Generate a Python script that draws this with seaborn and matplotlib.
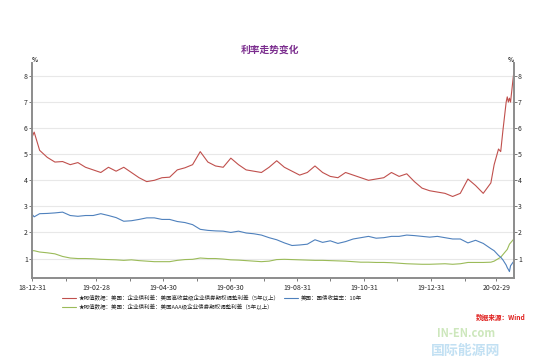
import matplotlib
matplotlib.use("Agg")
import matplotlib.pyplot as plt
import matplotlib.dates as mdates
import pandas as pd
import seaborn as sns

# weekly observations, plus a few extra points at the start and in March 2020
weekly = list(pd.date_range("2018-12-31", "2020-02-24", freq="7D"))
extra_dates = ["2019-01-02", "2020-02-27", "2020-03-02", "2020-03-04", "2020-03-06",
               "2020-03-09", "2020-03-10", "2020-03-11", "2020-03-12", "2020-03-13", "2020-03-16"]
dates = sorted(weekly + list(pd.to_datetime(extra_dates)))

# high yield spread (red)
hy_spread = [5.65, 5.85, 5.15, 4.88, 4.70, 4.72, 4.60, 4.68, 4.50, 4.40, 4.30,
             4.50, 4.35, 4.50, 4.30, 4.10, 3.95, 4.00, 4.10, 4.12, 4.40,
             4.48, 4.60, 5.10, 4.70, 4.55, 4.50, 4.85, 4.60, 4.40, 4.35,
             4.30, 4.50, 4.75, 4.50, 4.35, 4.20, 4.30, 4.55, 4.30, 4.15,
             4.10, 4.30, 4.20, 4.10, 4.00, 4.05, 4.10, 4.30, 4.15, 4.25,
             3.95, 3.70, 3.60, 3.55, 3.50, 3.38, 3.50, 4.05, 3.80, 3.50,
             3.90, 4.60, 5.20, 5.10, 5.90, 7.00, 7.20, 7.00, 7.15, 7.00, 8.15]
# 10 year treasury yield (blue)
ust10 = [2.70, 2.60, 2.72, 2.73, 2.75, 2.78, 2.65, 2.62, 2.65, 2.65, 2.72,
         2.65, 2.57, 2.43, 2.45, 2.50, 2.56, 2.56, 2.50, 2.50, 2.42,
         2.38, 2.30, 2.12, 2.08, 2.06, 2.05, 2.00, 2.05, 1.98, 1.95,
         1.90, 1.80, 1.72, 1.60, 1.50, 1.52, 1.55, 1.72, 1.62, 1.68,
         1.58, 1.65, 1.75, 1.80, 1.85, 1.78, 1.80, 1.85, 1.85, 1.90,
         1.88, 1.85, 1.82, 1.85, 1.80, 1.75, 1.75, 1.60, 1.70, 1.58,
         1.38, 1.30, 1.12, 1.05, 0.95, 0.75, 0.65, 0.58, 0.50, 0.72, 0.90]
# AAA spread (green)
aaa_spread = [1.30, 1.30, 1.25, 1.22, 1.18, 1.08, 1.02, 1.00, 1.00, 0.99, 0.97,
              0.96, 0.95, 0.93, 0.95, 0.92, 0.90, 0.88, 0.88, 0.88, 0.93,
              0.96, 0.97, 1.02, 1.00, 1.00, 0.98, 0.95, 0.94, 0.92, 0.90,
              0.88, 0.90, 0.96, 0.97, 0.96, 0.95, 0.94, 0.93, 0.93, 0.92,
              0.91, 0.90, 0.88, 0.86, 0.86, 0.85, 0.85, 0.84, 0.82, 0.80,
              0.79, 0.78, 0.78, 0.79, 0.80, 0.78, 0.80, 0.85, 0.85, 0.85,
              0.86, 0.90, 1.00, 1.05, 1.15, 1.30, 1.35, 1.45, 1.55, 1.60, 1.75]

labels = ["★阿值数据：美国：企业债利差：美国高收益级企业债券期权调整利差（5年以上）",
          "★阿值数据：美国：企业债利差：美国AAA级企业债券期权调整利差（5年以上）",
          "美国：国债收益率：10年"]
colors = ["#C0504D", "#9BBB59", "#4F81BD"]

tick_dates = ["2018-12-31", "2019-02-28", "2019-04-30", "2019-06-30",
              "2019-08-31", "2019-10-31", "2019-12-31", "2020-02-29"]
minor_dates = ["2019-01-31", "2019-03-31", "2019-05-31", "2019-07-31",
               "2019-09-30", "2019-11-30", "2020-01-31"]

sns.set_style("white")
plt.rcParams["font.family"] = ["Noto Sans CJK SC", "DejaVu Sans"]

df = pd.DataFrame({"date": dates, labels[0]: hy_spread,
                   labels[1]: aaa_spread, labels[2]: ust10})

fig = plt.figure(figsize=(5.42, 3.64), dpi=100)
ax = fig.add_axes([0.059, 0.236, 0.889, 0.591])

for lab, col in zip(labels, colors):
    sns.lineplot(data=df, x="date", y=lab, ax=ax, color=col, linewidth=0.8, label=lab, legend=False)

ax.set_xlim(pd.Timestamp("2018-12-31"), pd.Timestamp("2020-03-16"))
ax.set_ylim(0.25, 8.5)
ax.set_yticks(range(1, 9))
ax.yaxis.grid(True, color="#E8E8E8", linewidth=0.8)
ax.set_xlabel("")
ax.set_ylabel("")

ax.set_xticks(pd.to_datetime(tick_dates))
ax.set_xticks(pd.to_datetime(minor_dates), minor=True)
ax.xaxis.set_major_formatter(mdates.DateFormatter("%y-%m-%d"))

for side in ["left", "right", "bottom"]:
    ax.spines[side].set_color("#8C8C8C")
    ax.spines[side].set_linewidth(1.4)
ax.spines["top"].set_visible(False)

ax.tick_params(axis="y", left=True, right=True, labelleft=True, labelright=True,
               length=2, width=0.6, color="#666666", labelsize=5, pad=1)
ax.tick_params(axis="x", which="both", bottom=True, length=2, width=0.6,
               color="#666666", labelsize=5, pad=2)

ax.text(0, 1.0, "%", transform=ax.transAxes, fontsize=4.5, fontweight="bold", ha="left", va="bottom")
ax.text(1, 1.0, "%", transform=ax.transAxes, fontsize=4.5, fontweight="bold", ha="right", va="bottom")

fig.text(0.498, 0.862, "利率走势变化", fontsize=7, fontweight="bold", color="#7B2D8E", ha="center", va="center")

handles, labs = ax.get_legend_handles_labels()
fig.legend(handles, labs, ncol=2, loc="upper left", bbox_to_anchor=(0.105, 0.205),
           frameon=False, fontsize=4.0, handlelength=2.6, handletextpad=0.4,
           columnspacing=0.8, labelspacing=0.5)

fig.text(0.97, 0.128, "数据来源：Wind", fontsize=4.8, color="#E0201E", fontweight="bold",
         fontstyle="italic", ha="right", va="center")
fig.text(0.86, 0.085, "IN-EN.com", fontsize=8, color="#B8DDA0", fontweight="bold", ha="center", va="center", alpha=0.7)
fig.text(0.86, 0.035, "国际能源网", fontsize=10, color="#A9D4EE", fontweight="bold", ha="center", va="center", alpha=0.7)

fig.savefig("out.png", dpi=100)
